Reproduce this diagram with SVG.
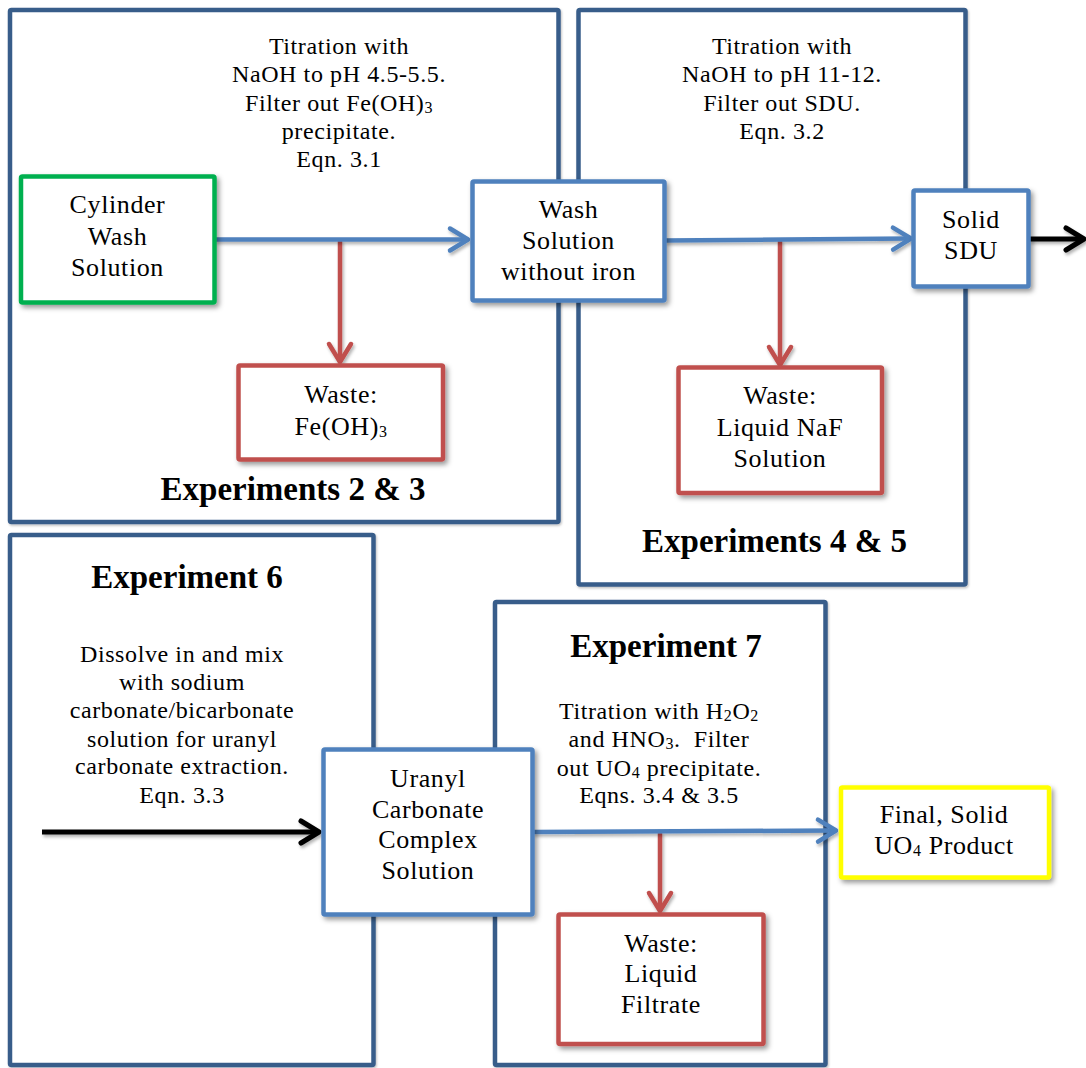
<svg xmlns="http://www.w3.org/2000/svg" width="1086" height="1068" viewBox="0 0 1086 1068">
<defs>
<style>
.frame{fill:#fff;stroke:#385D8A;stroke-width:4.5;filter:url(#fsh)}
.node{fill:#fff;stroke-width:4.5;filter:url(#sh)}
.blue{stroke:#4F81BD}
.red{stroke:#C0504D}
.green{stroke:#00B050}
.yellow{stroke:#FFFF00}
text{font-family:"Liberation Serif","Times New Roman",serif;fill:#000;text-anchor:middle}
.t{font-size:24px;letter-spacing:0.6px}
.n{font-size:26px;letter-spacing:0.6px}
.h{font-size:33px;font-weight:bold}
.sub{font-size:16px}
.c{fill:none;stroke-width:4.5;filter:url(#csh)}
.cb{stroke:#4F81BD}
.cr{stroke:#C0504D}
.ck{stroke:#000;stroke-width:5}
</style>
<filter id="sh" x="-10%" y="-10%" width="130%" height="130%">
<feDropShadow dx="2.5" dy="3" stdDeviation="2.5" flood-color="#000" flood-opacity="0.4"/>
</filter>
<filter id="fsh" x="-5%" y="-5%" width="110%" height="110%">
<feDropShadow dx="1" dy="1.5" stdDeviation="1" flood-color="#000" flood-opacity="0.25"/>
</filter>
<filter id="csh" filterUnits="userSpaceOnUse" x="0" y="0" width="1086" height="1068">
<feDropShadow dx="1.5" dy="2.5" stdDeviation="1.5" flood-color="#000" flood-opacity="0.3"/>
</filter>
<marker id="ab" markerUnits="userSpaceOnUse" markerWidth="30" markerHeight="30" refX="18" refY="11" orient="auto" overflow="visible">
<path d="M0,0 L18,11 L0,22" fill="none" stroke="#4F81BD" stroke-width="4.5" stroke-linecap="round" stroke-linejoin="round"/>
</marker>
<marker id="ar" markerUnits="userSpaceOnUse" markerWidth="30" markerHeight="30" refX="18" refY="11" orient="auto" overflow="visible">
<path d="M0,0 L18,11 L0,22" fill="none" stroke="#C0504D" stroke-width="4.5" stroke-linecap="round" stroke-linejoin="round"/>
</marker>
<marker id="ak" markerUnits="userSpaceOnUse" markerWidth="30" markerHeight="30" refX="18" refY="11" orient="auto" overflow="visible">
<path d="M0,0 L18,11 L0,22" fill="none" stroke="#000" stroke-width="5" stroke-linecap="round" stroke-linejoin="round"/>
</marker>
</defs>
<rect width="1086" height="1068" fill="#fff"/>

<g id="exp23">
<rect class="frame" x="10" y="10" width="548.5" height="512" rx="1.5"/>
<text class="t"><tspan x="339" y="54">Titration with</tspan><tspan x="339" y="82.3">NaOH to pH 4.5-5.5.</tspan><tspan x="339" y="110.6">Filter out Fe(OH)<tspan class="sub" dy="2">3</tspan></tspan><tspan x="339" y="139">precipitate.</tspan><tspan x="339" y="167.3">Eqn. 3.1</tspan></text>
<text class="h" x="293" y="500">Experiments 2 &amp; 3</text>
</g>

<g id="exp45">
<rect class="frame" x="578.5" y="10" width="387" height="574.5" rx="1.5"/>
<text class="t"><tspan x="782" y="54">Titration with</tspan><tspan x="782" y="82.3">NaOH to pH 11-12.</tspan><tspan x="782" y="110.6">Filter out SDU.</tspan><tspan x="782" y="139">Eqn. 3.2</tspan></text>
<text class="h" x="774.5" y="552">Experiments 4 &amp; 5</text>
</g>

<g id="exp6">
<rect class="frame" x="10" y="535" width="363.5" height="530" rx="1.5"/>
<text class="h" x="187" y="588">Experiment 6</text>
<text class="t"><tspan x="182" y="662">Dissolve in and mix</tspan><tspan x="182" y="690">with sodium</tspan><tspan x="182" y="718">carbonate/bicarbonate</tspan><tspan x="182" y="747">solution for uranyl</tspan><tspan x="182" y="774">carbonate extraction.</tspan><tspan x="182" y="803">Eqn. 3.3</tspan></text>
</g>

<g id="exp7">
<rect class="frame" x="495" y="602" width="330.5" height="463" rx="1.5"/>
<text class="h" x="666" y="657">Experiment 7</text>
<text class="t"><tspan x="659" y="719">Titration with H<tspan class="sub" dy="2">2</tspan><tspan dy="-2">O</tspan><tspan class="sub" dy="2">2</tspan></tspan><tspan x="659" y="747">and HNO<tspan class="sub" dy="2">3</tspan><tspan dy="-2">.&#160; Filter</tspan></tspan><tspan x="659" y="776">out UO<tspan class="sub" dy="2">4</tspan><tspan dy="-2"> precipitate.</tspan></tspan><tspan x="659" y="803">Eqns. 3.4 &amp; 3.5</tspan></text>
</g>

<g id="connectors">
<path class="c cr" d="M340,240 V362" marker-end="url(#ar)"/>
<path class="c cb" d="M215,239.5 H468" marker-end="url(#ab)"/>
<path class="c cr" d="M780,240 V365" marker-end="url(#ar)"/>
<path class="c cb" d="M665,240.5 L911,238.5" marker-end="url(#ab)"/>
<path class="c ck" d="M1029,239 H1084" marker-end="url(#ak)"/>
<path class="c ck" d="M42,832 H319" marker-end="url(#ak)"/>
<path class="c cr" d="M660,832 V911" marker-end="url(#ar)"/>
<path class="c cb" d="M533,832 L836,830.5" marker-end="url(#ab)"/>
</g>

<g id="cylinder">
<rect class="node green" x="21" y="176.5" width="193.5" height="126" rx="1.5"/>
<text class="n"><tspan x="117.5" y="213">Cylinder</tspan><tspan x="117.5" y="244.5">Wash</tspan><tspan x="117.5" y="276">Solution</tspan></text>
</g>

<g id="washnoiron">
<rect class="node blue" x="472.5" y="181.5" width="192" height="119" rx="1.5"/>
<text class="n"><tspan x="568.5" y="218">Wash</tspan><tspan x="568.5" y="249">Solution</tspan><tspan x="568.5" y="280">without iron</tspan></text>
</g>

<g id="wastefe">
<rect class="node red" x="238.5" y="365.5" width="204.5" height="94" rx="1.5"/>
<text class="n"><tspan x="341" y="403">Waste:</tspan><tspan x="341" y="435">Fe(OH)<tspan class="sub" font-size="17" dy="2">3</tspan></tspan></text>
</g>

<g id="solidsdu">
<rect class="node blue" x="913.5" y="190.5" width="115" height="96" rx="1.5"/>
<text class="n"><tspan x="971" y="228">Solid</tspan><tspan x="971" y="259">SDU</tspan></text>
</g>

<g id="wastenaf">
<rect class="node red" x="678.5" y="367.5" width="203.5" height="125.5" rx="1.5"/>
<text class="n"><tspan x="780" y="404">Waste:</tspan><tspan x="780" y="436">Liquid NaF</tspan><tspan x="780" y="467">Solution</tspan></text>
</g>

<g id="uranyl">
<rect class="node blue" x="323.5" y="749.5" width="209" height="165" rx="1.5"/>
<text class="n"><tspan x="428" y="787">Uranyl</tspan><tspan x="428" y="818">Carbonate</tspan><tspan x="428" y="848">Complex</tspan><tspan x="428" y="879">Solution</tspan></text>
</g>

<g id="finaluo4">
<rect class="node yellow" x="841" y="787.5" width="208" height="90" rx="1.5"/>
<text class="n"><tspan x="944" y="823">Final, Solid</tspan><tspan x="944" y="854">UO<tspan class="sub" font-size="17" dy="2">4</tspan><tspan dy="-2"> Product</tspan></tspan></text>
</g>

<g id="wastefiltrate">
<rect class="node red" x="558.5" y="914.5" width="205" height="129.5" rx="1.5"/>
<text class="n"><tspan x="661" y="952">Waste:</tspan><tspan x="661" y="982">Liquid</tspan><tspan x="661" y="1013">Filtrate</tspan></text>
</g>
</svg>
